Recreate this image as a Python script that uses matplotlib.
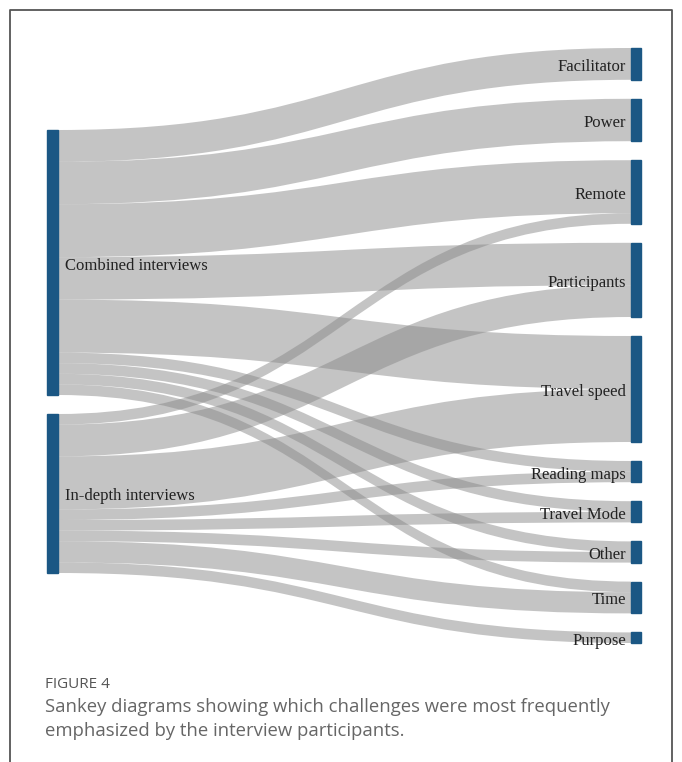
import matplotlib
matplotlib.use("Agg")
import matplotlib.pyplot as plt
from matplotlib.path import Path
from matplotlib.patches import PathPatch, Rectangle
import numpy as np

# data
sources = ['Combined interviews', 'In-depth interviews']
targets = ['Facilitator', 'Power', 'Remote', 'Participants', 'Travel speed',
           'Reading maps', 'Travel Mode', 'Other', 'Time', 'Purpose']
combined = [3, 4, 5, 4, 5, 1, 1, 1, 1, 0]
in_depth = [0, 0, 1, 3, 5, 1, 1, 1, 2, 1]
flows = [combined, in_depth]

# layout (pixels)
W, H = 682, 762
scale = 10.6       # px per unit
gap = 19
left_x, right_x, node_w = 47, 631, 11
left_top, right_top = 130, 48
node_color = '#1b5784'

fig = plt.figure(figsize=(W / 100, H / 100), dpi=100)
ax = fig.add_axes([0, 0, 1, 1])
ax.set_xlim(0, W)
ax.set_ylim(H, 0)
ax.axis('off')

src_tot = [sum(f) for f in flows]
tgt_tot = [sum(f[j] for f in flows) for j in range(len(targets))]

src_y = []
y = left_top
for t in src_tot:
    src_y.append(y)
    y += t * scale + gap
tgt_y = []
y = right_top
for t in tgt_tot:
    tgt_y.append(y)
    y += t * scale + gap


def link(y0a, y0b, y1a, y1b):
    x0 = left_x + node_w
    x1 = right_x
    xm = (x0 + x1) / 2
    verts = [(x0, y0a), (xm, y0a), (xm, y1a), (x1, y1a),
             (x1, y1b), (xm, y1b), (xm, y0b), (x0, y0b), (x0, y0a)]
    codes = [Path.MOVETO, Path.CURVE4, Path.CURVE4, Path.CURVE4,
             Path.LINETO, Path.CURVE4, Path.CURVE4, Path.CURVE4, Path.CLOSEPOLY]
    ax.add_patch(PathPatch(Path(verts, codes), facecolor='#8a8a8a',
                           edgecolor='none', alpha=0.5, zorder=1))


src_off = list(src_y)
tgt_off = list(tgt_y)
for i, f in enumerate(flows):
    for j, v in enumerate(f):
        if v == 0:
            continue
        h = v * scale
        link(src_off[i], src_off[i] + h, tgt_off[j], tgt_off[j] + h)
        src_off[i] += h
        tgt_off[j] += h

for i, name in enumerate(sources):
    h = src_tot[i] * scale
    ax.add_patch(Rectangle((left_x, src_y[i]), node_w, h, color=node_color, zorder=2))
    ax.text(left_x + node_w + 7, src_y[i] + h / 2 + 1, name, ha='left',
            va='center_baseline', fontsize=12, family='Liberation Serif',
            color='#222222', zorder=3)

for j, name in enumerate(targets):
    h = tgt_tot[j] * scale
    ax.add_patch(Rectangle((right_x, tgt_y[j]), node_w - 1, h, color=node_color, zorder=2))
    ax.text(right_x - 5, tgt_y[j] + h / 2 + 1, name, ha='right',
            va='center_baseline', fontsize=12, family='Liberation Serif',
            color='#222222', zorder=3)

# frame
ax.plot([10, 10, 672, 672], [H, 10, 10, H], color='#555555', lw=1.3, zorder=4)

# caption
ax.text(45, 685, 'FIGURE 4', ha='left', va='center', fontsize=11,
        family='Open Sans', color='#555555')
ax.text(45, 707, 'Sankey diagrams showing which challenges were most frequently',
        ha='left', va='center', fontsize=13.3, family='Open Sans', color='#666666')
ax.text(45, 731, 'emphasized by the interview participants.',
        ha='left', va='center', fontsize=13.3, family='Open Sans', color='#666666')

fig.savefig('out.png', dpi=100)
